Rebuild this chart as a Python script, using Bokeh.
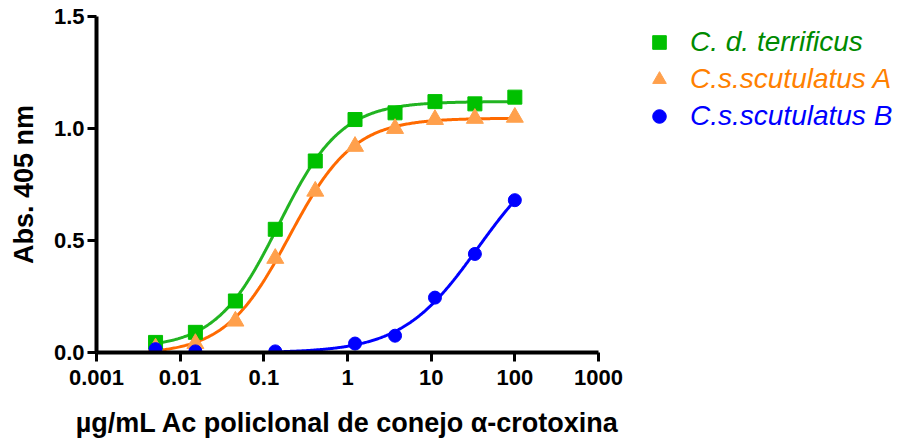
import numpy as np
from bokeh.plotting import figure
from bokeh.layouts import row
from bokeh.models import Range1d, FixedTicker, Legend, LegendItem
from bokeh.embed import file_html
from bokeh.resources import INLINE

# ---- data ----
conc = [0.00508, 0.0152, 0.0457, 0.137, 0.412, 1.23, 3.70, 11.1, 33.3, 100.0]
cdt_y = [0.045, 0.09, 0.23, 0.55, 0.855, 1.04, 1.07, 1.12, 1.11, 1.14]
cssa_y = [0.02, 0.04, 0.14, 0.42, 0.72, 0.92, 1.00, 1.04, 1.045, 1.05]
cssb_x = [0.00508, 0.0152, 0.137, 1.23, 3.70, 11.1, 33.3, 100.0]
cssb_y = [0.015, 0.005, 0.005, 0.04, 0.075, 0.245, 0.44, 0.68]
names = ["C. d. terrificus", "C.s.scutulatus A", "C.s.scutulatus B"]
x_ticks = [0.001, 0.01, 0.1, 1, 10, 100, 1000]
x_tick_labels = ["0.001", "0.01", "0.1", "1", "10", "100", "1000"]
y_ticks = [0.0, 0.5, 1.0, 1.5]

# ---- 4-parameter logistic fit (nonlinear regression, as the original) ----
def model(p, lx):
    b, t, c, h = p
    return b + (t - b) / (1.0 + 10.0 ** ((c - lx) * h))

def fit4pl(x, y, p0):
    lx = np.log10(np.asarray(x, float))
    y = np.asarray(y, float)
    p = np.array(p0, float)
    lam = 1e-3
    def res(p):
        return model(p, lx) - y
    r = res(p)
    for _ in range(500):
        J = np.zeros((len(lx), 4))
        for k in range(4):
            dp = np.zeros(4); dp[k] = 1e-6
            J[:, k] = (res(p + dp) - r) / 1e-6
        A = J.T @ J
        g = J.T @ r
        step = np.linalg.solve(A + lam * np.diag(np.diag(A) + 1e-12), -g)
        pn = p + step
        rn = res(pn)
        if np.sum(rn**2) < np.sum(r**2):
            p, r = pn, rn
            lam *= 0.3
        else:
            lam *= 10
        if np.linalg.norm(step) < 1e-10:
            break
    return p

p_g = fit4pl(conc, cdt_y, [0.02, 1.12, -0.8, 1.0])
p_o = fit4pl(conc, cssa_y, [0.01, 1.05, -0.6, 1.0])
p_b = fit4pl(cssb_x[2:], cssb_y[2:], [0.0, 1.0, 1.6, 1.0])
if not (0.6 < p_b[1] < 3.0):
    p_b = fit4pl(cssb_x, cssb_y, [0.0, 1.0, 1.6, 1.0])

lx_go = np.linspace(np.log10(conc[0]), np.log10(conc[-1]), 300)
lx_b = np.linspace(np.log10(cssb_x[2]), np.log10(cssb_x[-1]), 300)

FONT = "Liberation Sans"
MAIN_W = 640
p = figure(width=MAIN_W, height=442, x_axis_type="log",
           x_range=Range1d(0.001, 1000), y_range=Range1d(0, 1.5),
           output_backend="svg", toolbar_location=None,
           min_border_left=96, min_border_right=MAIN_W - 96 - 502,
           min_border_top=16, min_border_bottom=90)
p.outline_line_color = None
p.grid.visible = False

green_line, green_mk = "#22B422", "#00C000"
orange_line, orange_mk = "#FF6A00", "#FFA04C"
blue = "#0000FF"

p.line(10 ** lx_go, model(p_g, lx_go), line_color=green_line, line_width=3)
p.line(10 ** lx_go, model(p_o, lx_go), line_color=orange_line, line_width=3)
p.line(10 ** lx_b, model(p_b, lx_b), line_color=blue, line_width=3)

p.scatter(conc, cdt_y, marker="square", size=14, color=green_mk)
p.scatter(conc, cssa_y, marker="triangle", size=17, color=orange_mk)
p.scatter(cssb_x, cssb_y, marker="circle", size=13, color=blue)

for ax in (p.xaxis[0], p.yaxis[0]):
    ax.axis_line_width = 4
    ax.axis_line_color = "black"
    ax.major_tick_line_width = 3
    ax.major_tick_line_color = "black"
    ax.major_tick_in = 0
    ax.major_tick_out = 9
    ax.minor_tick_line_color = None
    ax.major_label_text_font = FONT
    ax.major_label_text_font_style = "bold"
    ax.major_label_text_font_size = "22px"
    ax.major_label_text_color = "black"
    ax.axis_label_text_font = FONT
    ax.axis_label_text_font_style = "bold"
    ax.axis_label_text_font_size = "27px"
    ax.axis_label_text_color = "black"

p.xaxis.ticker = FixedTicker(ticks=x_ticks)
p.xaxis.major_label_overrides = {t: s for t, s in zip(x_ticks, x_tick_labels)}
p.xaxis.major_label_standoff = 8
p.xaxis.axis_label = "µg/mL Ac policlonal de conejo α-crotoxina"
p.xaxis.axis_label_standoff = 20

p.yaxis.ticker = FixedTicker(ticks=y_ticks)
p.yaxis.major_label_overrides = {t: f"{t:.1f}" for t in y_ticks}
p.yaxis.major_label_standoff = 3
p.yaxis.axis_label = "Abs. 405 nm"
p.yaxis.axis_label_standoff = 12

# ---- legend panel (separate figure so that each entry keeps its own colour) ----
LEG_W = 899 - MAIN_W
lp = figure(width=LEG_W, height=442, output_backend="svg", toolbar_location=None,
            min_border=0, x_range=Range1d(0, 1), y_range=Range1d(0, 1))
lp.axis.visible = False
lp.grid.visible = False
lp.outline_line_color = None

leg_colors = ["#008A00", "#FF8000", "#0000FF"]
leg_markers = [("square", 14, green_mk), ("triangle", 17, orange_mk), ("circle", 13, blue)]
for i, (nm, col, (mk, sz, mc)) in enumerate(zip(names, leg_colors, leg_markers)):
    # renderer only for the legend swatch (NaN position: nothing drawn in the panel)
    rr = lp.scatter(x=np.array([np.nan]), y=np.array([np.nan]), marker=mk, size=sz, color=mc)
    lg = Legend(items=[LegendItem(label=nm, renderers=[rr], index=0)],
                location=(2, 293 - i * 37),
                glyph_width=34, glyph_height=34,
                label_standoff=14, padding=0, margin=0, spacing=0,
                border_line_color=None, background_fill_alpha=0,
                label_text_font=FONT, label_text_font_style="italic",
                label_text_font_size="28px", label_text_color=col,
                label_height=34)
    lp.add_layout(lg, "center")

layout = row(p, lp, spacing=0)
open("out.html", "w").write(file_html(layout, INLINE))
